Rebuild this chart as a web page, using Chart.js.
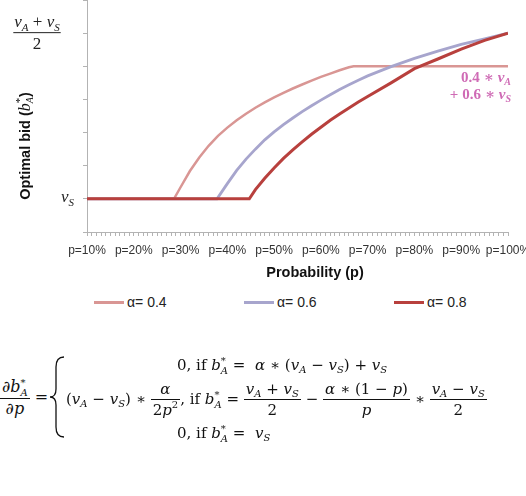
<!DOCTYPE html>
<html>
<head>
<meta charset="utf-8">
<script src="https://cdn.jsdelivr.net/npm/chart.js@4.4.0/dist/chart.umd.min.js"></script>
<style>
  html, body { margin: 0; padding: 0; background: #fff; overflow: hidden; width: 526px; height: 496px; }
  #wrap { position: relative; width: 526px; height: 496px; overflow: hidden; }
  #chart { position: absolute; left: 0; top: 0; }
  .legend { position: absolute; top: 294px; left: 94px; display: flex; font-family: 'Liberation Sans', Arial, sans-serif; font-size: 14px; color: #222; }
  .legend .item { width: 150px; display: flex; align-items: center; }
  .legend .swatch { width: 30px; height: 3px; margin-right: 3px; }
  .m { position: absolute; font-family: 'DejaVu Serif', 'Liberation Serif', serif; font-size: 15px; color: #111; white-space: nowrap; line-height: 20px; }
  .m.big { font-size: 16px; }
  .m i { font-style: italic; }
  .frac { display: inline-block; vertical-align: middle; text-align: center; line-height: 20px; }
  .frac > span { display: block; padding: 0 2px; }
  .frac > .n { border-bottom: 1px solid #111; }
  .ss { display: inline-block; vertical-align: middle; font-size: 10px; line-height: 10px; text-align: left; }
  .ss > span { display: block; }
  .m sub { font-size: 10px; vertical-align: -3px; font-style: italic; line-height: 0; }
  .m sup { font-size: 10px; vertical-align: 7px; line-height: 0; }
  svg.brace { position: absolute; left: 0; top: 0; }
</style>
</head>
<body>
<div id="wrap">
  <canvas id="chart" width="560" height="290"></canvas>
  <div class="legend" id="legend"></div>

  <div class="m big" style="left:0px; top:377px;">
    <span class="frac"><span class="n">∂<i>b</i><span class="ss"><span>*</span><span><i>A</i></span></span></span><span>∂<i>p</i></span></span> =
  </div>
  <svg class="brace" width="526" height="496"><path d="M64 357 Q56 357 56 367 L56 389 Q56 397 50 397 Q56 397 56 405 L56 427 Q56 437 64 437" fill="none" stroke="#111" stroke-width="1.3"/></svg>
  <div class="m" style="left:177px; top:355px;">0, if <i>b</i><span class="ss"><span>*</span><span><i>A</i></span></span> =&nbsp; <i>α</i> ∗ (<i>v</i><sub>A</sub> − <i>v</i><sub>S</sub>) + <i>v</i><sub>S</sub></div>
  <div class="m" style="left:66px; top:379px;">(<i>v</i><sub>A</sub> − <i>v</i><sub>S</sub>) ∗ <span class="frac"><span class="n"><i>α</i></span><span>2<i>p</i><sup>2</sup></span></span>, if <i>b</i><span class="ss"><span>*</span><span><i>A</i></span></span> = <span class="frac"><span class="n"><i>v</i><sub>A</sub> + <i>v</i><sub>S</sub></span><span>2</span></span> − <span class="frac"><span class="n"><i>α</i> ∗ (1 − <i>p</i>)</span><span><i>p</i></span></span> ∗ <span class="frac"><span class="n"><i>v</i><sub>A</sub> − <i>v</i><sub>S</sub></span><span>2</span></span></div>
  <div class="m" style="left:177px; top:423px;">0, if <i>b</i><span class="ss"><span>*</span><span><i>A</i></span></span> =&nbsp; <i>v</i><sub>S</sub></div>
</div>
<script>
  // values; y unit: v_S = 1, (v_A + v_S)/2 = 6
  const seriesLabels = ['α= 0.4', 'α= 0.6', 'α= 0.8'];
  const seriesColors = ['#d99694', '#a7a5cd', '#b8403d'];
  const xTickLabels = ['p=10%', 'p=20%', 'p=30%', 'p=40%', 'p=50%', 'p=60%', 'p=70%', 'p=80%', 'p=90%', 'p=100%'];

  const pAlpha04 = [0.10, 0.286, 0.30, 0.32, 0.34, 0.36, 0.38, 0.40, 0.42, 0.44, 0.46, 0.48, 0.50, 0.52, 0.54, 0.56, 0.58, 0.60, 0.62, 0.64, 0.66, 0.67, 0.80, 1.00];
  const bidAlpha04 = [1, 1, 1.35, 1.84, 2.25, 2.60, 2.90, 3.15, 3.37, 3.57, 3.75, 3.91, 4.06, 4.20, 4.33, 4.45, 4.57, 4.68, 4.78, 4.88, 4.97, 5, 5, 5];

  const pAlpha06 = [0.10, 0.378, 0.40, 0.42, 0.44, 0.46, 0.48, 0.50, 0.52, 0.54, 0.56, 0.58, 0.60, 0.62, 0.64, 0.66, 0.68, 0.70, 0.75, 0.80, 0.85, 0.90, 0.95, 1.00];
  const bidAlpha06 = [1, 1, 1.46, 1.86, 2.20, 2.50, 2.78, 3.02, 3.24, 3.44, 3.63, 3.81, 3.98, 4.14, 4.30, 4.44, 4.58, 4.71, 4.99, 5.24, 5.46, 5.66, 5.83, 6.0];

  const pAlpha08 = [0.10, 0.447, 0.46, 0.48, 0.50, 0.52, 0.54, 0.56, 0.58, 0.60, 0.62, 0.64, 0.66, 0.68, 0.70, 0.75, 0.80, 0.85, 0.90, 0.95, 1.00];
  const bidAlpha08 = [1, 1, 1.28, 1.62, 1.93, 2.22, 2.48, 2.72, 2.95, 3.16, 3.37, 3.56, 3.74, 3.92, 4.09, 4.50, 4.93, 5.22, 5.52, 5.78, 6.0];

  const capValue = 5;   // 0.4*v_A + 0.6*v_S
  const vsValue = 1;    // v_S
  const midValue = 6;   // (v_A + v_S)/2

  const toPoints = (xs, ys) => xs.map((x, i) => ({ x: x, y: ys[i] }));
  const seriesData = [toPoints(pAlpha04, bidAlpha04), toPoints(pAlpha06, bidAlpha06), toPoints(pAlpha08, bidAlpha08)];
  const lineWidths = [2.5, 2.8, 3];

  // html legend, spaced like the original
  const legendEl = document.getElementById('legend');
  seriesLabels.forEach((lab, i) => {
    const it = document.createElement('div');
    it.className = 'item';
    it.innerHTML = `<span class="swatch" style="background:${seriesColors[i]}"></span><span>${lab}</span>`;
    legendEl.appendChild(it);
  });

  const serif = (size, style) => `${style || ''} ${size}px "Liberation Serif", "DejaVu Serif", serif`;
  const sans = (size, style) => `${style || ''} ${size}px "Liberation Sans", Arial, sans-serif`;

  function drawRuns(ctx, runs, x, y, align) {
    let w = 0;
    runs.forEach(r => {
      ctx.font = r.font;
      r.w = ctx.measureText(r.t).width;
      if (!r.stay) w += r.w;
    });
    let cx = align === 'right' ? x - w : align === 'center' ? x - w / 2 : x;
    runs.forEach(r => {
      ctx.font = r.font;
      ctx.fillText(r.t, cx, y + (r.dy || 0));
      if (!r.stay) cx += r.w;
    });
    return w;
  }

  const mathLabels = {
    id: 'mathLabels',
    afterDraw(chart) {
      const ctx = chart.ctx;
      const xs = chart.scales.x, ys = chart.scales.y;
      ctx.save();
      ctx.fillStyle = '#222';
      ctx.textBaseline = 'alphabetic';

      // y tick label: v_S
      const yvs = ys.getPixelForValue(vsValue);
      drawRuns(ctx, [
        { t: 'v', font: serif(17, 'italic') },
        { t: 'S', font: serif(11, 'italic'), dy: 4 }
      ], xs.left - 13, yvs + 3, 'right');

      // y tick label: (v_A + v_S) / 2
      const ymid = ys.getPixelForValue(midValue);
      const cx = 37;
      const w = drawRuns(ctx, [
        { t: 'v', font: serif(17, 'italic') },
        { t: 'A', font: serif(11, 'italic'), dy: 4 },
        { t: ' + ', font: serif(17) },
        { t: 'v', font: serif(17, 'italic') },
        { t: 'S', font: serif(11, 'italic'), dy: 4 }
      ], cx, ymid - 6, 'center');
      ctx.fillRect(cx - w / 2 - 1, ymid - 1, w + 2, 1);
      ctx.font = serif(17);
      ctx.textAlign = 'center';
      ctx.fillText('2', cx, ymid + 16);
      ctx.textAlign = 'left';

      // y axis title
      ctx.save();
      ctx.translate(30, 146);
      ctx.rotate(-Math.PI / 2);
      ctx.fillStyle = '#111';
      drawRuns(ctx, [
        { t: 'Optimal bid (', font: sans(14.5, 'bold') },
        { t: 'b', font: serif(16, 'italic') },
        { t: '*', font: serif(11), dy: -7, stay: true },
        { t: 'A', font: serif(10, 'italic'), dy: 3 },
        { t: ')', font: sans(14.5, 'bold') }
      ], 0, 0, 'center');
      ctx.restore();

      // x axis title
      ctx.fillStyle = '#111';
      ctx.font = sans(14.5, 'bold');
      ctx.textAlign = 'center';
      ctx.fillText('Probability (p)', 315, 277);
      ctx.textAlign = 'left';

      // cap annotation
      ctx.fillStyle = '#cf6bb5';
      const ax = xs.getPixelForValue(1.0) + 3;
      const ay = ys.getPixelForValue(capValue);
      drawRuns(ctx, [
        { t: '0.4 ∗ ', font: serif(15, 'bold') },
        { t: 'v', font: serif(15, 'bold italic') },
        { t: 'A', font: serif(10, 'bold italic'), dy: 3 }
      ], ax, ay + 16, 'right');
      drawRuns(ctx, [
        { t: '+ 0.6 ∗ ', font: serif(15, 'bold') },
        { t: 'v', font: serif(15, 'bold italic') },
        { t: 'S', font: serif(10, 'bold italic'), dy: 3 }
      ], ax, ay + 33, 'right');
      ctx.restore();
    }
  };

  new Chart(document.getElementById('chart'), {
    type: 'line',
    data: {
      datasets: seriesData.map((d, i) => ({
        label: seriesLabels[i],
        data: d,
        borderColor: seriesColors[i],
        backgroundColor: seriesColors[i],
        borderWidth: lineWidths[i],
        pointRadius: 0,
        tension: 0,
        order: 3 - i
      }))
    },
    options: {
      responsive: false,
      animation: false,
      layout: { padding: { left: 0, right: 52, top: 0, bottom: 0 } },
      plugins: { legend: { display: false }, tooltip: { enabled: false } },
      scales: {
        x: {
          type: 'linear',
          min: 0.1,
          max: 1.0,
          afterFit: (s) => { s.height = 58; },
          border: { color: '#b3b3b3', width: 1 },
          grid: { drawOnChartArea: false, color: '#b3b3b3', tickLength: 4 },
          ticks: {
            stepSize: 0.01,
            autoSkip: false,
            maxRotation: 0,
            padding: 7,
            color: '#333',
            font: { family: 'Liberation Sans', size: 12 },
            callback: (v, i) => (i % 10 === 0 ? xTickLabels[i / 10] : '')
          }
        },
        y: {
          min: 0,
          max: 7,
          afterFit: (s) => { s.width = 87; },
          border: { color: '#b3b3b3', width: 1 },
          grid: { drawOnChartArea: false, color: '#b3b3b3', tickLength: 4 },
          ticks: { stepSize: 1, display: false }
        }
      }
    },
    plugins: [mathLabels]
  });
</script>
</body>
</html>
